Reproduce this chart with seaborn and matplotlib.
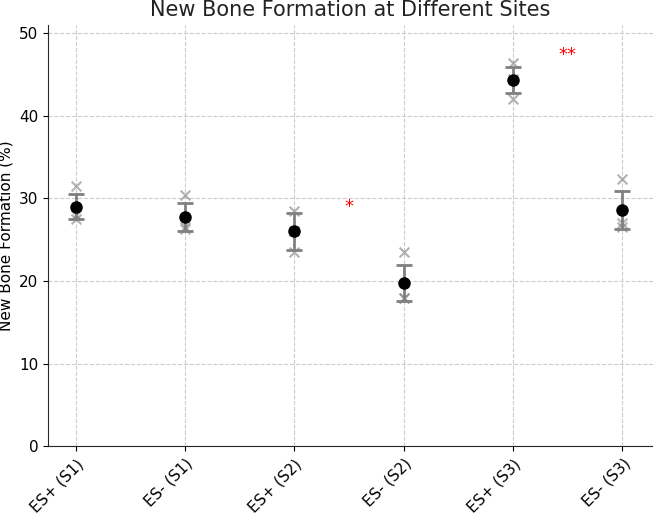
import matplotlib
matplotlib.use("Agg")
import matplotlib.pyplot as plt
import seaborn as sns
import pandas as pd

# 数据
groups = ["ES+ (S1)", "ES- (S1)", "ES+ (S2)", "ES- (S2)", "ES+ (S3)", "ES- (S3)"]
means = [29.0, 27.8, 26.0, 19.8, 44.3, 28.6]
errs = [1.5, 1.7, 2.2, 2.2, 1.6, 2.3]
samples = [
    [31.5, 28.0, 27.5],
    [30.4, 26.5, 26.3],
    [28.5, 23.5, 26.0],
    [23.5, 18.0, 18.0],
    [46.4, 42.0, 44.5],
    [32.4, 26.5, 27.0],
]
star_pos = [2.5, 4.5]
star_y = [29.0, 47.3]
star_txt = ["*", "**"]

sns.set_style("white")
fig, ax = plt.subplots(figsize=(6.53, 5.27), dpi=100)

pts = pd.DataFrame([(g, v) for g, s in zip(groups, samples) for v in s], columns=["group", "value"])
sns.stripplot(data=pts, x="group", y="value", order=groups, marker="x", color="gray",
              alpha=0.6, size=7, linewidth=1.5, jitter=False, ax=ax, zorder=2)
ax.errorbar(range(len(groups)), means, yerr=errs, fmt="o", color="black", ms=8,
            ecolor="gray", elinewidth=2, capsize=6, capthick=2, zorder=3)
for x, y, t in zip(star_pos, star_y, star_txt):
    ax.text(x, y, t, color="red", fontsize=13, ha="center", va="center")

ax.set_ylim(0, 51)
ax.set_xlabel("")
ax.set_ylabel("New Bone Formation (%)", fontsize=11, color="black")
ax.set_title("New Bone Formation at Different Sites", fontsize=15, color="#222222")
ax.set_xticks(range(len(groups)))
ax.set_xticklabels(groups, rotation=45, fontsize=11, ha="right", rotation_mode="anchor")
ax.tick_params(axis="both", labelsize=11, colors="black", left=True, bottom=True)
ax.grid(True, linestyle="--", color="#cccccc", linewidth=0.8)
ax.set_axisbelow(True)
sns.despine(ax=ax)
ax.set_xlim(-0.25, 5.28)
plt.subplots_adjust(left=0.074, right=1.0, top=0.953, bottom=0.153)
plt.savefig("out.png", dpi=100)
